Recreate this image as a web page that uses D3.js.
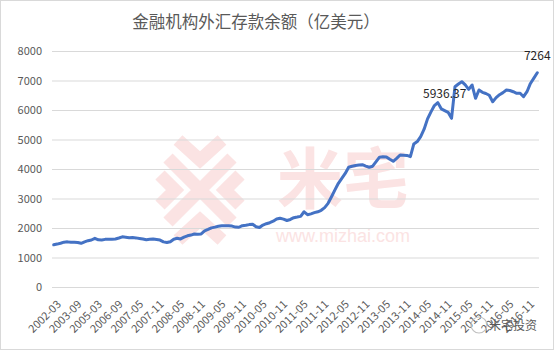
<!DOCTYPE html>
<html><head><meta charset="utf-8">
<script src="https://cdn.jsdelivr.net/npm/d3@7"></script>
<style>
html,body{margin:0;padding:0;background:#fff;}
svg{display:block;font-family:"Noto Sans CJK SC","Noto Sans",sans-serif;}
</style></head>
<body><svg id="c" width="555" height="351"></svg>
<script>
// categories: quarterly 2002-03..2006-12, then monthly 2007-01..2017-02
const quarterly = ["2002-03","2002-06","2002-09","2002-12","2003-03","2003-06","2003-09","2003-12",
  "2004-03","2004-06","2004-09","2004-12","2005-03","2005-06","2005-09","2005-12",
  "2006-03","2006-06","2006-09","2006-12"];
const monthlyYears = [2007,2008,2009,2010,2011,2012,2013,2014,2015,2016];
const months = ["01","02","03","04","05","06","07","08","09","10","11","12"];
const categories = quarterly.slice();
monthlyYears.forEach(yr => months.forEach(m => categories.push(yr + "-" + m)));
categories.push("2017-01","2017-02");

const values = [
  1430,1455,1485,1520,1530,1515,1515,1510,1481,1530,
  1570,1593,1650,1600,1595,1615,1620,1622,1627,1660,
  1700,1690,1671,1675,1665,1645,1625,1603,1615,1627,
  1610,1590,1530,1510,1536,1620,1650,1630,1690,1735,
  1760,1795,1790,1800,1900,1950,2005,2030,2060,2075,
  2078,2080,2065,2030,2025,2080,2095,2115,2130,2045,
  2015,2100,2145,2180,2230,2305,2329,2300,2255,2290,
  2350,2370,2395,2550,2450,2480,2520,2550,2600,2690,
  2837,3060,3290,3515,3680,3850,4060,4095,4120,4136,
  4145,4100,4060,4095,4250,4400,4417,4410,4330,4260,
  4360,4475,4470,4460,4420,4850,4930,5100,5350,5700,
  5936.37,6150,6250,6040,5980,5920,5718,6790,6880,6960,
  6850,6700,6847,6396,6678,6600,6560,6500,6282,6420,
  6520,6590,6678,6660,6620,6566,6566,6451,6620,6900,
  7080,7264
];

const tickLabels = ["2002-03","2003-09","2005-03","2006-09","2007-05","2007-11","2008-05","2008-11",
  "2009-05","2009-11","2010-05","2010-11","2011-05","2011-11","2012-05","2012-11","2013-05","2013-11",
  "2014-05","2014-11","2015-05","2015-11","2016-05","2016-11"];
const yTicks = [0,1000,2000,3000,4000,5000,6000,7000,8000];
const labelled = [{cat:"2014-11", text:"5936.37"}, {cat:"2017-02", text:"7264"}];
const title = "金融机构外汇存款余额（亿美元）";

const svg = d3.select("#c");
const pL = 52, pR = 539, pT = 51, pB = 287;

const x = d3.scaleBand().domain(categories).range([pL, pR]);
const cx = c => x(c) + x.bandwidth()/2;
const y = d3.scaleLinear().domain([0,8000]).range([pB, pT]);

// border
svg.append("rect").attr("x",0.5).attr("y",0.5).attr("width",553).attr("height",349)
  .attr("fill","#fff").attr("stroke","#d9d9d9");

// watermark (faint logo + text)
const pink = "#fbe3e3";
const logo = svg.append("g").attr("stroke",pink).attr("stroke-width",13).attr("fill","none")
  .attr("stroke-linecap","butt");
logo.append("path").attr("d","M168,158 L232,222 M232,158 L168,222");
logo.append("path").attr("d","M178,140 L200,160 L222,140");
logo.append("path").attr("d","M178,240 L200,220 L222,240");
logo.append("path").attr("d","M160,175 L175,190 L160,205");
logo.append("path").attr("d","M240,175 L225,190 L240,205");
const wm = svg.append("g").attr("fill",pink);
wm.append("text").attr("x",343).attr("y",203).attr("text-anchor","middle")
  .attr("font-size",66).attr("font-weight","bold").text("米宅");
wm.append("text").attr("x",343).attr("y",242).attr("text-anchor","middle")
  .attr("font-size",18).attr("font-family","Liberation Sans, Arial, sans-serif").text("www.mizhai.com");

// grid + y axis
const yAxis = d3.axisLeft(y).tickValues(yTicks).tickFormat(d3.format("d"))
  .tickSize(-(pR-pL)).tickPadding(10);
const gy = svg.append("g").attr("transform",`translate(${pL},0)`).call(yAxis);
gy.select(".domain").remove();
gy.selectAll(".tick line").attr("stroke","#d9d9d9");
gy.selectAll(".tick text").attr("fill","#595959").attr("font-size",11)
  .attr("font-family","Noto Sans CJK SC, sans-serif");

// x axis labels
const xAxis = d3.axisBottom(x).tickValues(tickLabels).tickSize(0).tickPadding(0);
const gx = svg.append("g").attr("transform",`translate(0,${pB})`).call(xAxis);
gx.select(".domain").remove();
gx.selectAll(".tick text").attr("fill","#595959").attr("font-size",11)
  .attr("font-family","Noto Sans CJK SC, sans-serif")
  .attr("text-anchor","end").attr("dy",0)
  .attr("transform","translate(8,18) rotate(-45)");

// line
const line = d3.line().x((d,i)=>cx(categories[i])).y(d=>y(d));
svg.append("path").datum(values).attr("d",line).attr("fill","none")
  .attr("stroke","#4472c4").attr("stroke-width",3).attr("stroke-linejoin","round").attr("stroke-linecap","round");

// data labels
labelled.forEach(l => {
  const i = categories.indexOf(l.cat);
  svg.append("text").attr("x",cx(l.cat)).attr("y",y(values[i])-13)
    .attr("text-anchor","middle").attr("font-size",12).attr("fill","#262626")
    .attr("font-family","Noto Sans CJK SC, sans-serif").text(l.text);
});

// title
svg.append("text").attr("x",256).attr("y",28).attr("text-anchor","middle")
  .attr("font-size",16.5).attr("fill","#595959").text(title);

// corner watermark
svg.append("circle").attr("cx",479).attr("cy",325).attr("r",8)
  .attr("fill","none").attr("stroke","#bfbfbf").attr("stroke-width",1.2);
svg.append("text").attr("x",537).attr("y",330).attr("text-anchor","end")
  .attr("font-size",12).attr("fill","#595959").text("米宅投资");
</script></body></html>
